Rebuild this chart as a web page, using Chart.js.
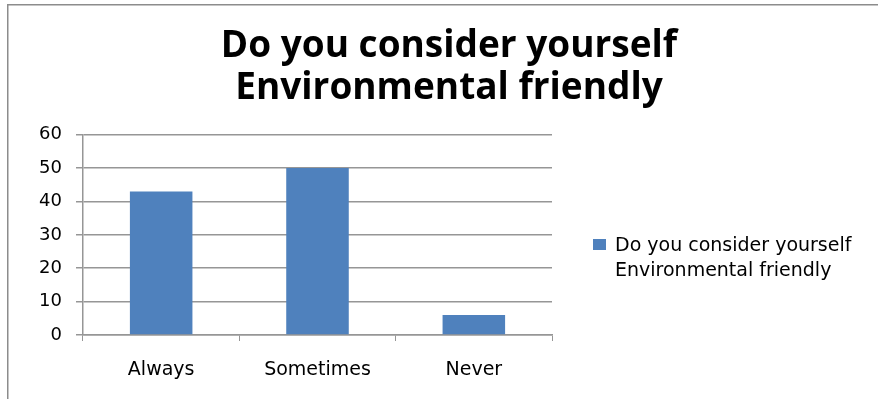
<!DOCTYPE html>
<html>
<head>
<meta charset="utf-8">
<script src="https://cdn.jsdelivr.net/npm/chart.js@4/dist/chart.umd.min.js"></script>
<style>
  html, body { margin: 0; padding: 0; background: #fff; }
  #wrap { position: relative; width: 878px; height: 399px; }
</style>
</head>
<body>
<div id="wrap"><canvas id="c" width="878" height="399"></canvas></div>
<script>
// Survey answers
const categories = ['Always', 'Sometimes', 'Never'];
const seriesLabel = ['Do you consider yourself', 'Environmental friendly'];
const responses = [43, 50, 6];
const yTicks = [0, 10, 20, 30, 40, 50, 60];

const BAR_BLUE = '#4F81BD';
const GRID_GREY = '#969696';
const TEXT_FONT = "'DejaVu Sans', Verdana, sans-serif";

// Outer frame and the side legend with its two-line label
const frameAndLegend = {
  id: 'frameAndLegend',
  beforeDraw(chart) {
    const ctx = chart.ctx;
    ctx.save();
    ctx.fillStyle = '#fff';
    ctx.fillRect(0, 0, chart.width, chart.height);
    ctx.strokeStyle = '#8c8c8c';
    ctx.lineWidth = 1.5;
    ctx.strokeRect(7.75, 4.75, chart.width + 20, chart.height + 20);
    ctx.restore();
  },
  afterDraw(chart) {
    const ctx = chart.ctx;
    const area = chart.chartArea;
    const x0 = area.right + 41;
    const y0 = 239;
    ctx.save();
    ctx.fillStyle = chart.data.datasets[0].backgroundColor;
    ctx.fillRect(x0, y0, 13, 11);
    ctx.fillStyle = '#000';
    ctx.font = '19px ' + TEXT_FONT;
    ctx.textBaseline = 'middle';
    ctx.textAlign = 'left';
    seriesLabel.forEach((line, i) => {
      ctx.fillText(line, x0 + 22, y0 + 7 + i * 25.5);
    });
    ctx.restore();
  }
};

new Chart(document.getElementById('c'), {
  type: 'bar',
  data: {
    labels: categories,
    datasets: [{
      label: seriesLabel.join(' '),
      data: responses,
      backgroundColor: BAR_BLUE,
      borderWidth: 0,
      barPercentage: 0.4,
      categoryPercentage: 1.0,
      yAxisID: 'y'
    }]
  },
  options: {
    responsive: false,
    animation: false,
    devicePixelRatio: 1,
    layout: { padding: { left: 20, right: 0, top: 0, bottom: 0 } },
    plugins: {
      legend: { display: false },
      tooltip: { enabled: false },
      title: {
        display: true,
        text: seriesLabel,
        color: '#000',
        font: { family: "'Open Sans', 'Liberation Sans', sans-serif", size: 37, weight: 'bold', lineHeight: 1.135 },
        padding: { top: 25, bottom: 25.7 },
        align: 'center',
        fullSize: true
      }
    },
    scales: {
      x: {
        offset: true,
        grid: { display: true, drawOnChartArea: false, offset: true, color: GRID_GREY, tickLength: 6, lineWidth: 1 },
        border: { color: GRID_GREY, width: 1.5 },
        ticks: { color: '#000', font: { family: TEXT_FONT, size: 19 }, padding: 18, maxRotation: 0 },
        afterFit(scale) { scale.height = 64; }
      },
      y: {
        min: 0,
        max: 60,
        afterBuildTicks(scale) { scale.ticks = yTicks.map(v => ({ value: v })); },
        grid: { color: GRID_GREY, lineWidth: 1.5, tickLength: 7 },
        border: { color: GRID_GREY, width: 1.5 },
        ticks: { color: '#000', font: { family: TEXT_FONT, size: 18 }, padding: 14 },
        afterFit(scale) { scale.width = 63; }
      },
      // empty right-hand axis that reserves room for the legend
      side: {
        position: 'right',
        display: true,
        grid: { display: false, drawOnChartArea: false },
        border: { display: false },
        ticks: { display: false },
        afterFit(scale) { scale.width = 326; }
      }
    }
  },
  plugins: [frameAndLegend]
});
</script>
</body>
</html>
